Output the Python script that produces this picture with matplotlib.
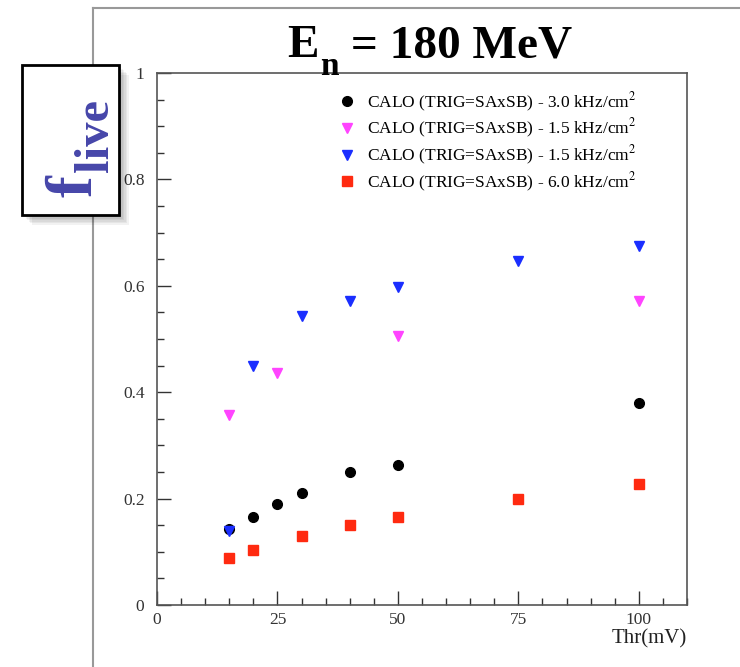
import matplotlib.pyplot as plt
from matplotlib.patches import Rectangle
from matplotlib.lines import Line2D
from matplotlib.ticker import MultipleLocator

# data
x_black = [15, 20, 25, 30, 40, 50, 100]
y_black = [0.143, 0.165, 0.190, 0.210, 0.250, 0.263, 0.380]

x_magenta = [15, 25, 50, 100]
y_magenta = [0.357, 0.436, 0.506, 0.571]

x_blue = [15, 20, 30, 40, 50, 75, 100]
y_blue = [0.140, 0.449, 0.543, 0.571, 0.598, 0.647, 0.675]

x_red = [15, 20, 30, 40, 50, 75, 100]
y_red = [0.088, 0.103, 0.130, 0.150, 0.165, 0.199, 0.227]

labels = [
    r"CALO (TRIG=SAxSB) - 3.0 kHz/cm$^2$",
    r"CALO (TRIG=SAxSB) - 1.5 kHz/cm$^2$",
    r"CALO (TRIG=SAxSB) - 1.5 kHz/cm$^2$",
    r"CALO (TRIG=SAxSB) - 6.0 kHz/cm$^2$",
]

plt.rcParams['font.family'] = ['Liberation Serif', 'DejaVu Serif']
plt.rcParams['mathtext.fontset'] = 'stix'

W, H = 740, 667


def px(x, y):
    # pixel position (from top-left) -> figure fraction
    return x / W, 1 - y / H


fig = plt.figure(figsize=(7.4, 6.67), dpi=100)

# slide frame lines
fig.add_artist(Line2D([93 / W, 93 / W], [0, 1 - 8 / H], color='#999999', lw=1.5, zorder=1))
fig.add_artist(Line2D([93 / W, 1], [1 - 8 / H, 1 - 8 / H], color='#999999', lw=1.5, zorder=1))

ax = fig.add_axes([157 / W, 1 - 605 / H, 530 / W, 532 / H])

ax.plot(x_black, y_black, 'o', color='black', ms=7, label=labels[0])
ax.plot(x_magenta, y_magenta, 'v', color='#ff44ff', ms=7, label=labels[1])
ax.plot(x_blue, y_blue, 'v', color='#1a2eff', ms=7, label=labels[2])
ax.plot(x_red, y_red, 's', color='#ff2a10', ms=7, label=labels[3])

ax.set_xlim(0, 110)
ax.set_ylim(0, 1)
ax.xaxis.set_minor_locator(MultipleLocator(5))
ax.yaxis.set_minor_locator(MultipleLocator(0.05))
ax.set_xticks([0, 25, 50, 75, 100])
ax.set_xticklabels(['0', '25', '50', '75', '100'])
ax.set_yticks([0, 0.2, 0.4, 0.6, 0.8, 1.0])
ax.set_yticklabels(['0', '0.2', '0.4', '0.6', '0.8', '1'])
ax.tick_params(which='both', direction='in', top=False, right=False,
               colors='#333333', labelcolor='#333333', labelsize=12.5)
ax.tick_params(which='major', length=10, width=1)
ax.tick_params(which='minor', length=5, width=1)
ax.tick_params(axis='x', pad=5)
ax.tick_params(axis='y', pad=9)
for sp in ax.spines.values():
    sp.set_color('#555555')
    sp.set_linewidth(1.2)

ax.set_xlabel('Thr(mV)', fontsize=15, color='#222222', loc='right', labelpad=1)

ax.legend(loc='upper left', frameon=False, fontsize=12.5, handletextpad=0.55,
          labelspacing=0.2, bbox_to_anchor=(0.307, 1.0), handlelength=1.2,
          borderaxespad=0.6)

# title, built from pieces so the subscript sits low like the original
fig.canvas.draw()
rend = fig.canvas.get_renderer()
t_e = fig.text(*px(287, 57), "E", fontsize=34, fontweight='bold', va='baseline')
x_n = t_e.get_window_extent(rend).x1 + 2
t_n = fig.text(x_n / W, 1 - 75 / H, "n", fontsize=24, fontweight='bold', va='baseline')
x_r = t_n.get_window_extent(rend).x1
fig.text(x_r / W, 1 - 57 / H, " = 180 MeV", fontsize=34, fontweight='bold',
         va='baseline')

# f_live box with a soft shadow
for i in range(6):
    off = 2 + i * 1.5
    fig.add_artist(Rectangle(px(22 + off, 215 + off), 97 / W, 150 / H,
                             facecolor='black', edgecolor='none', alpha=0.05, zorder=3))
fig.add_artist(Rectangle(px(22, 215), 97 / W, 150 / H,
                         facecolor='white', edgecolor='black', lw=2, zorder=4))
fig.text(*px(92, 197), "f", rotation=90, rotation_mode='anchor', ha='left', va='baseline',
         fontsize=47, fontweight='bold', color='#4646aa', zorder=5)
fig.text(*px(108, 172), "live", rotation=90, rotation_mode='anchor', ha='left',
         va='baseline', fontsize=35, fontweight='bold', color='#4646aa', zorder=5)

fig.savefig('out.png', dpi=100)
